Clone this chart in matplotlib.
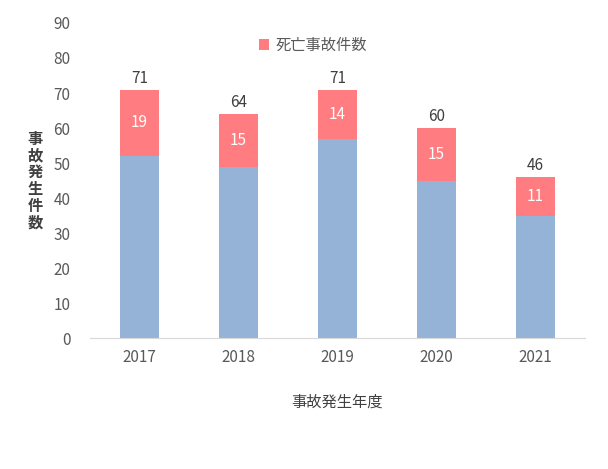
import matplotlib
matplotlib.use("Agg")
import matplotlib.pyplot as plt

plt.rcParams["font.family"] = "Noto Sans CJK JP"

years = ["2017", "2018", "2019", "2020", "2021"]
totals = [71, 64, 71, 60, 46]
fatal = [19, 15, 14, 15, 11]
other = [t - f for t, f in zip(totals, fatal)]

fig = plt.figure(figsize=(6.08, 4.69), dpi=100)
ax = fig.add_axes([0.148, 0.279, 0.814, 0.672])
x = range(len(years))
ax.bar(x, other, width=0.39, color="#95B3D7")
ax.bar(x, fatal, bottom=other, width=0.39, color="#FF7C80", label="死亡事故件数")
for i in x:
    ax.text(i, other[i] + fatal[i] / 2, str(fatal[i]), ha="center", va="center", color="white", fontsize=11)
    ax.text(i, totals[i] + 0.8, str(totals[i]), ha="center", va="bottom", color="#404040", fontsize=11)
ax.set_xlim(-0.5, 4.5)
ax.set_ylim(0, 90)
ax.set_yticks(range(0, 91, 10))
ax.set_xticks(list(x))
ax.set_xticklabels(years)
for s in ["top", "right", "left"]:
    ax.spines[s].set_visible(False)
ax.spines["bottom"].set_color("#D9D9D9")
ax.tick_params(axis="both", length=0, labelsize=11, colors="#595959", pad=8)
ax.tick_params(axis="y", pad=14)
ax.set_xlabel("事故発生年度", fontsize=11, color="#404040", labelpad=20)
fig.text(0.058, 0.615, "事\n故\n発\n生\n件\n数", ha="center", va="center", fontsize=11,
         color="#404040", fontweight="bold", linespacing=1.05)
ax.legend(loc="upper center", bbox_to_anchor=(0.45, 1.0), frameon=False, fontsize=11,
          handlelength=0.7, handleheight=0.7, handletextpad=0.4, labelcolor="#595959")
fig.savefig("out.png", dpi=100)
